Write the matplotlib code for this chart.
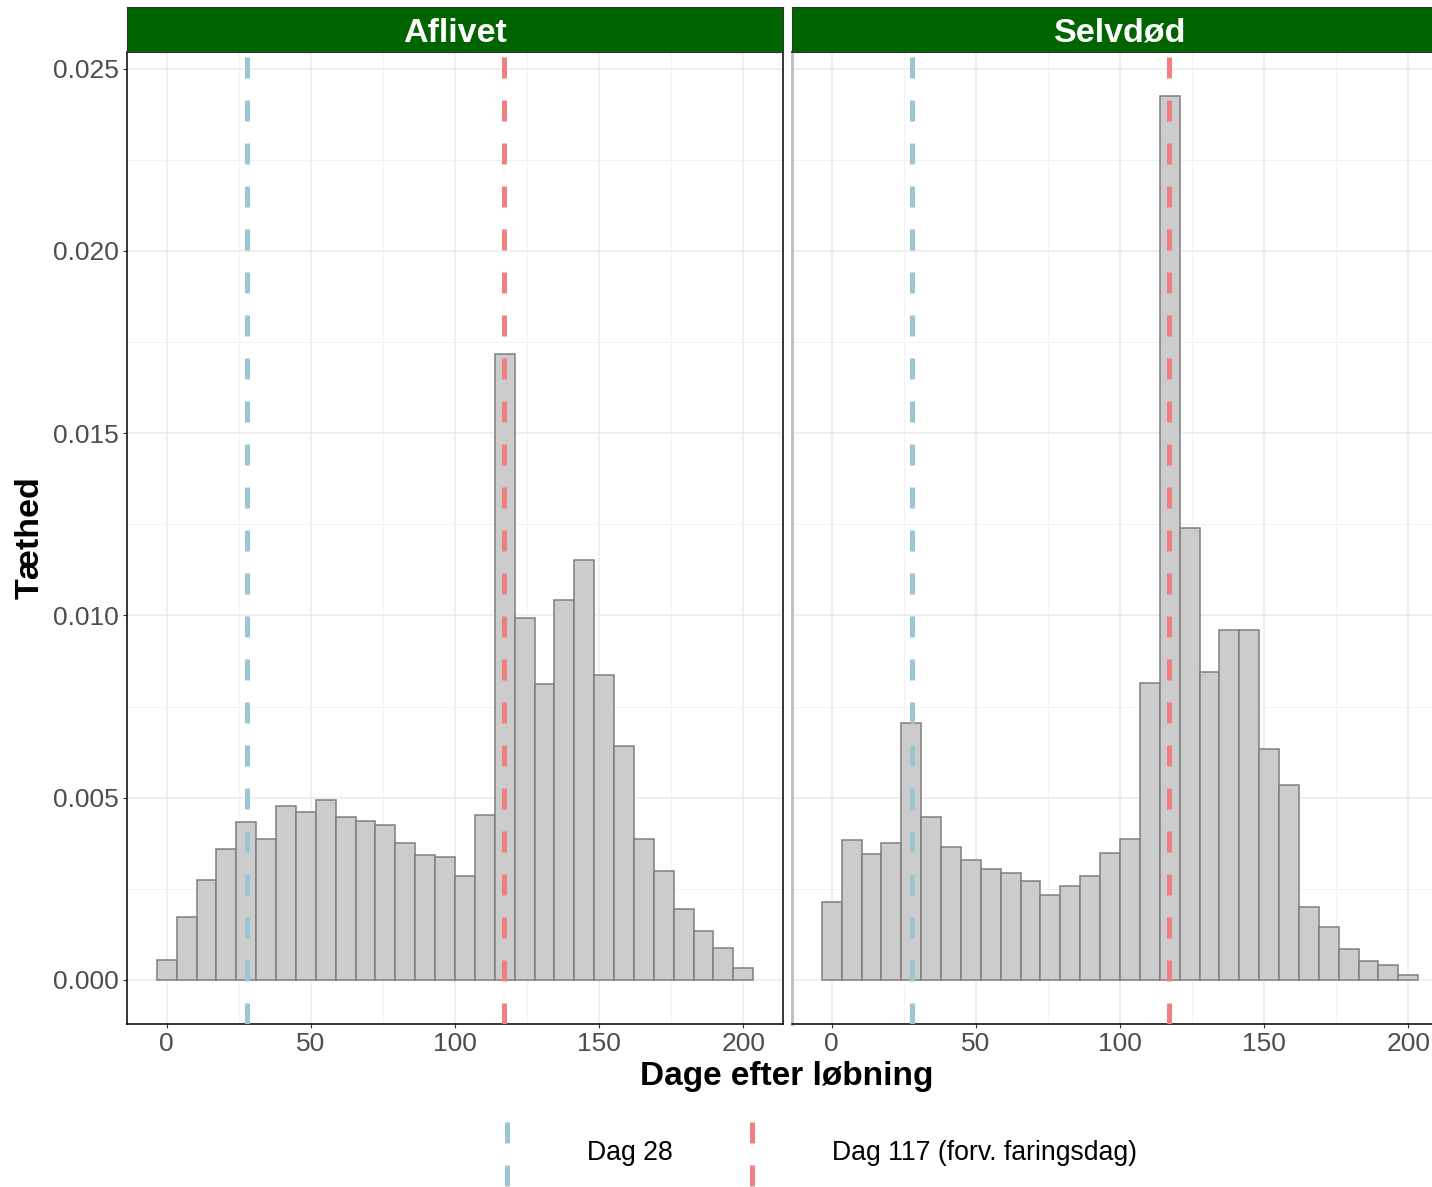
import numpy as np
import matplotlib.pyplot as plt
from matplotlib.lines import Line2D

plt.rcParams['font.family'] = ['Liberation Sans', 'DejaVu Sans']

# histogram data (density, 30 bins over 0-200 days)
bin_centers = np.linspace(0, 200, 30)
bin_width = 200 / 29
aflivet = [0.00054, 0.00172, 0.00274, 0.00360, 0.00433, 0.00386, 0.00476, 0.00461,
           0.00494, 0.00446, 0.00435, 0.00426, 0.00377, 0.00344, 0.00336, 0.00285,
           0.00453, 0.01716, 0.00994, 0.00811, 0.01042, 0.01153, 0.00836, 0.00643,
           0.00386, 0.00299, 0.00195, 0.00135, 0.00087, 0.00033]
selvdod = [0.00215, 0.00383, 0.00345, 0.00377, 0.00706, 0.00446, 0.00366, 0.00328,
           0.00305, 0.00293, 0.00272, 0.00234, 0.00258, 0.00286, 0.00347, 0.00387,
           0.00815, 0.02425, 0.01240, 0.00845, 0.00960, 0.00961, 0.00633, 0.00535,
           0.00200, 0.00146, 0.00084, 0.00051, 0.00041, 0.00013]
panels = ["Aflivet", "Selvdød"]
ref_days = [28, 117]
ref_labels = ["Dag 28", "Dag 117 (forv. faringsdag)"]
ref_colors = ["#9AC5D3", "#F08080"]

W, H = 1432, 1187
fig = plt.figure(figsize=(W / 100, H / 100), dpi=100)


def box(x0, y0, x1, y1):
    # pixel box -> figure fraction rect
    return [x0 / W, 1 - y1 / H, (x1 - x0) / W, (y1 - y0) / H]


for i, (name, dens) in enumerate(zip(panels, [aflivet, selvdod])):
    x0 = 127 + i * 665
    ax = fig.add_axes(box(x0, 52, x0 + 656, 1024))
    ax.bar(bin_centers, dens, width=bin_width, color='#CCCCCC', edgecolor='#7F7F7F',
           linewidth=1.1, zorder=2)
    for d, c in zip(ref_days, ref_colors):
        ax.axvline(d, color=c, lw=3.6, dashes=(4.2, 4.4), zorder=3)

    pad_x = 0.05 * (200 + bin_width)
    ax.set_xlim(-bin_width / 2 - pad_x, 200 + bin_width / 2 + pad_x)
    ax.set_ylim(-0.00121, 0.02546)
    ax.set_xticks([0, 50, 100, 150, 200])
    ax.set_xticks([25, 75, 125, 175], minor=True)
    ax.set_yticks([0, 0.005, 0.010, 0.015, 0.020, 0.025])
    ax.set_yticks([0.0025, 0.0075, 0.0125, 0.0175, 0.0225], minor=True)
    ax.set_yticklabels(["0.000", "0.005", "0.010", "0.015", "0.020", "0.025"])
    ax.set_axisbelow(True)
    ax.grid(which='major', color='#EBEBEB', lw=1.1)
    ax.grid(which='minor', color='#F0F0F0', lw=0.6)
    ax.tick_params(which='minor', length=0)
    ax.tick_params(which='major', labelsize=19, labelcolor='#4D4D4D',
                   color='#333333', length=3, pad=3)

    for s in ax.spines.values():
        s.set_color('black')
        s.set_linewidth(1.1)
    if i == 1:
        ax.spines['left'].set_color('#BEBEBE')
        ax.spines['left'].set_linewidth(2)
        ax.spines['right'].set_visible(False)
        ax.tick_params(axis='y', left=False, labelleft=False)

    sax = fig.add_axes(box(x0, 7, x0 + 656, 52))
    sax.set_facecolor('#006400')
    sax.set_xticks([])
    sax.set_yticks([])
    for s in sax.spines.values():
        s.set_color('#333333')
        s.set_linewidth(0.8)
    sax.text(0.5, 0.42, name, transform=sax.transAxes, ha='center', va='center',
             color='white', fontsize=24.5, fontweight='bold')

fig.text(787 / W, 1 - 1076 / H, "Dage efter løbning", ha='center', va='center',
         fontsize=24, fontweight='bold')
fig.text(30 / W, 1 - 538 / H, "Tæthed", ha='center', va='center', rotation=90,
         fontsize=24.5, fontweight='bold')

# legend at the bottom
for kx, tx, lab, c in zip([507, 752], [587, 832], ref_labels, ref_colors):
    fig.add_artist(Line2D([kx / W, kx / W], [1 - 1122 / H, 1 - 1192 / H],
                          transform=fig.transFigure, color=c, lw=3.6,
                          dashes=(4.2, 4.4)))
    fig.text(tx / W, 1 - 1153 / H, lab, ha='left', va='center', fontsize=19.2)

fig.savefig("out.png", dpi=100)
